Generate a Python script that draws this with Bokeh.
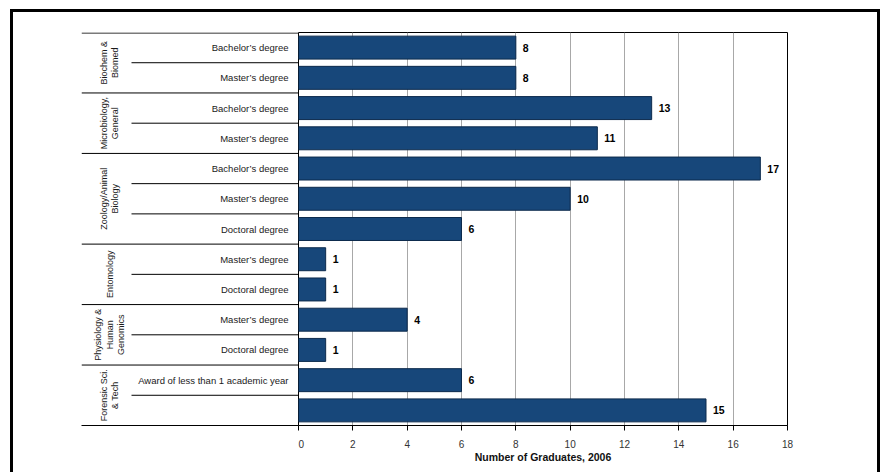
import math
from bokeh.plotting import figure
from bokeh.layouts import row
from bokeh.models import Range1d, ColumnDataSource, FixedTicker
from bokeh.core.properties import value
from bokeh.embed import file_html
from bokeh.resources import INLINE

# ---------------- data ----------------
groups = ["Biochem &\nBiomed", "Microbiology,\nGeneral", "Zoology/Animal\nBiology",
          "Entomology", "Physiology &\nHuman\nGenomics", "Forensic Sci.\n& Tech"]
group_sizes = [2, 2, 3, 2, 2, 2]
degrees = ["Bachelor\u2019s degree", "Master\u2019s degree",
           "Bachelor\u2019s degree", "Master\u2019s degree",
           "Bachelor\u2019s degree", "Master\u2019s degree", "Doctoral degree",
           "Master\u2019s degree", "Doctoral degree",
           "Master\u2019s degree", "Doctoral degree",
           "Award of less than 1 academic year", ""]
graduates = [8, 8, 13, 11, 17, 10, 6, 1, 1, 4, 1, 6, 15]
x_ticks = [0, 2, 4, 6, 8, 10, 12, 14, 16, 18]
x_title = "Number of Graduates, 2006"

# ---------------- layout constants ----------------
FONT = "Liberation Sans"
TOP = 20
FRAME_H = 393
FRAME_W = 489
BOTTOM = 47
LW = 285
G_X0 = 68
S_X0 = 118
R_RIGHT = 90
N = len(graduates)

rows_c = [i + 0.5 for i in range(N)]
bar_color = "#17477a"

# group boundaries
bounds = [0]
for s in group_sizes:
    bounds.append(bounds[-1] + s)
group_centers = [(bounds[i] + bounds[i + 1]) / 2 for i in range(len(groups))]
sub_bounds = [b for b in range(1, N) if b not in bounds]

y_range = Range1d(N, 0)


def style_xaxis(ax, visible=True):
    ax.major_tick_out = 5
    ax.major_tick_in = 0
    ax.minor_tick_line_color = None
    ax.major_label_text_font = FONT
    ax.major_label_text_font_size = "10px"
    ax.major_label_standoff = 9
    ax.axis_label = x_title
    ax.axis_label_text_font = FONT
    ax.axis_label_text_font_style = "bold"
    ax.axis_label_text_font_size = "10.5px"
    ax.axis_label_standoff = 0
    ax.axis_line_color = "black"
    if visible:
        ax.major_tick_line_color = "black"
        ax.major_label_text_color = "#333333"
        ax.axis_label_text_color = "#111111"
    else:
        ax.major_tick_line_color = None
        ax.major_label_text_alpha = 0
        ax.axis_label_text_alpha = 0


# ---------------- right figure (bars) ----------------
p = figure(frame_width=FRAME_W, frame_height=FRAME_H, title_location=None,
           x_range=Range1d(0, max(x_ticks)), y_range=y_range,
           output_backend="svg", toolbar_location=None, y_axis_location=None,
           min_border_left=0, min_border_right=R_RIGHT, min_border_top=TOP,
           min_border_bottom=BOTTOM, align="start")
p.outline_line_color = "black"
p.outline_line_width = 1
p.ygrid.visible = False
p.xgrid.grid_line_color = "#a8a8a8"
p.xgrid.grid_line_width = 1
p.xgrid.ticker = x_ticks
p.xaxis.ticker = x_ticks
style_xaxis(p.xaxis[0], True)
p.background_fill_color = "white"
p.border_fill_color = "white"

src = ColumnDataSource(dict(y=rows_c, v=graduates, t=[str(v) for v in graduates]))
p.hbar(y="y", left=0, right="v", height=0.76, source=src,
       fill_color=bar_color, line_color="#0c2a4c", line_width=1)
p.text(x="v", y="y", text="t", source=src, x_offset=7,
       text_font=value(FONT), text_font_style="bold", text_font_size="10.5px",
       text_align="left", text_baseline="middle", text_color="black")

# ---------------- left figure (category table) ----------------
t = figure(frame_width=LW - G_X0, frame_height=FRAME_H, title_location=None,
           x_range=Range1d(G_X0, LW), y_range=y_range,
           output_backend="svg", toolbar_location=None, y_axis_location=None,
           min_border_left=G_X0, min_border_right=0,
           min_border_top=TOP, min_border_bottom=BOTTOM, align="start")
t.outline_line_color = None
t.xgrid.visible = False
t.ygrid.visible = False
t.xaxis.ticker = FixedTicker(ticks=[(G_X0 + LW) / 2])
style_xaxis(t.xaxis[0], False)
t.background_fill_color = "white"
t.border_fill_color = "white"

# top line (gray), inner group lines black (bottom one is the axis line)
t.segment(x0=[G_X0], x1=[LW], y0=[bounds[0]], y1=[bounds[0]], line_color="#7a7a7a", line_width=3)
gb = bounds[1:-1]
t.segment(x0=[G_X0] * len(gb), x1=[LW] * len(gb), y0=gb, y1=gb, line_color="black", line_width=1)
t.segment(x0=[S_X0] * len(sub_bounds), x1=[LW] * len(sub_bounds), y0=sub_bounds, y1=sub_bounds,
          line_color="black", line_width=1)

t.text(x=[LW - 10] * N, y=rows_c, text=degrees, text_font=value(FONT), text_font_size="9.5px",
       text_align="right", text_baseline="middle", text_color="#1a1a1a")
t.text(x=[96] * len(groups), y=group_centers, text=groups, angle=math.pi / 2,
       text_font=value(FONT), text_font_size="9px", text_align="center",
       text_baseline="middle", text_color="#1a1a1a", text_line_height=1.15)

layout = row(t, p, spacing=0,
             styles={"border-left": "3px solid black", "border-top": "3px solid black",
                     "border-right": "3px solid black", "margin-left": "10px",
                     "margin-top": "9px"})

open("out.html", "w").write(file_html(layout, INLINE))
